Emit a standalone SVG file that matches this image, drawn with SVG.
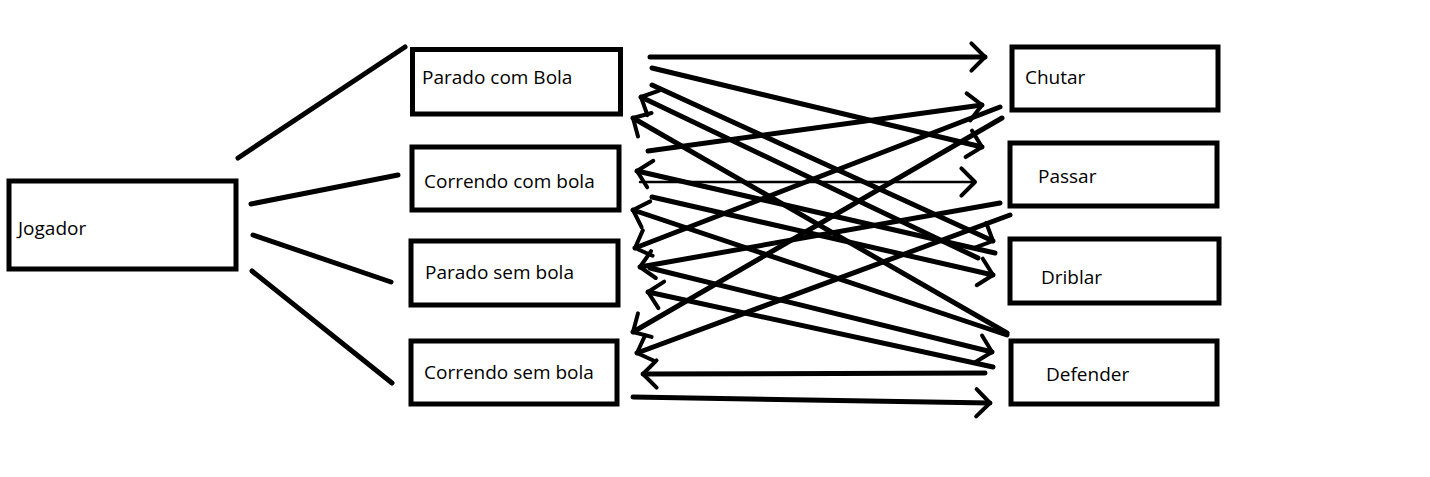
<svg xmlns="http://www.w3.org/2000/svg" width="1430" height="477" viewBox="0 0 1430 477">
<style>
.box{fill:#fff;stroke:#000;stroke-width:5}
.lbl{font-family:"Open Sans","Noto Sans",sans-serif;font-size:19px;fill:#000}
.ln{stroke:#000;stroke-width:5;stroke-linecap:round;fill:none}
.ar{stroke:#000;stroke-width:5;stroke-linecap:round;fill:none;marker-end:url(#ah)}
.thin{stroke:#000;stroke-width:2.5;stroke-linecap:round;fill:none;marker-end:url(#ah)}
</style>
<defs>
<marker id="ah" markerUnits="userSpaceOnUse" markerWidth="40" markerHeight="40" refX="0" refY="0" orient="auto" viewBox="-25 -25 50 50" overflow="visible">
<path d="M-17,-17 L0,0 L-17,17" fill="none" stroke="#000" stroke-width="5" stroke-linecap="round" stroke-linejoin="round"/>
</marker>
</defs>
<rect width="1430" height="477" fill="#fff"/>
<g id="connectors">
<line class="ln" x1="238" y1="158" x2="405" y2="47"/>
<line class="ln" x1="251" y1="204" x2="398" y2="175"/>
<line class="ln" x1="253" y1="235" x2="391" y2="282"/>
<line class="ln" x1="252" y1="271" x2="392" y2="383"/>
<line class="ar" x1="650" y1="57" x2="985" y2="57"/>
<line class="ar" x1="652" y1="68" x2="982" y2="147"/>
<line class="ar" x1="652" y1="85" x2="993" y2="241"/>
<line class="ar" x1="978" y1="258" x2="641" y2="97"/>
<line class="ar" x1="1007" y1="333" x2="633" y2="118"/>
<line class="ar" x1="648" y1="151" x2="982" y2="105"/>
<line class="ar" x1="995" y1="253" x2="637" y2="171"/>
<line class="thin" x1="640" y1="182" x2="975" y2="182"/>
<line class="ar" x1="652" y1="197" x2="993" y2="275"/>
<line class="ar" x1="1007" y1="335" x2="633" y2="210"/>
<line class="ar" x1="1000" y1="107" x2="635" y2="248"/>
<line class="ar" x1="1000" y1="203" x2="640" y2="267"/>
<line class="ar" x1="650" y1="268" x2="992" y2="352"/>
<line class="ar" x1="993" y1="367" x2="648" y2="292"/>
<line class="ar" x1="1002" y1="118" x2="633" y2="332"/>
<line class="ar" x1="1010" y1="215" x2="637" y2="353"/>
<line class="ar" x1="985" y1="373" x2="643" y2="374"/>
<line class="ar" x1="633" y1="397" x2="990" y2="403"/>
</g>
<g id="jogador"><rect class="box" x="9" y="181" width="227" height="88"/><text class="lbl" x="18" y="235">Jogador</text></g>
<g id="parado-com-bola"><rect class="box" x="412.5" y="49.5" width="208" height="64.5"/><text class="lbl" x="422" y="84">Parado com Bola</text></g>
<g id="correndo-com-bola"><rect class="box" x="412" y="147" width="207" height="63"/><text class="lbl" x="424" y="188">Correndo com bola</text></g>
<g id="parado-sem-bola"><rect class="box" x="411" y="241" width="207" height="64"/><text class="lbl" x="425" y="279">Parado sem bola</text></g>
<g id="correndo-sem-bola"><rect class="box" x="411" y="341" width="206" height="63"/><text class="lbl" x="424" y="379">Correndo sem bola</text></g>
<g id="chutar"><rect class="box" x="1012" y="47" width="206" height="63"/><text class="lbl" x="1025" y="84">Chutar</text></g>
<g id="passar"><rect class="box" x="1010" y="143" width="207" height="63"/><text class="lbl" x="1038" y="183">Passar</text></g>
<g id="driblar"><rect class="box" x="1010" y="239" width="209" height="64"/><text class="lbl" x="1041" y="284">Driblar</text></g>
<g id="defender"><rect class="box" x="1011" y="341" width="206" height="63"/><text class="lbl" x="1046" y="381">Defender</text></g>
</svg>
